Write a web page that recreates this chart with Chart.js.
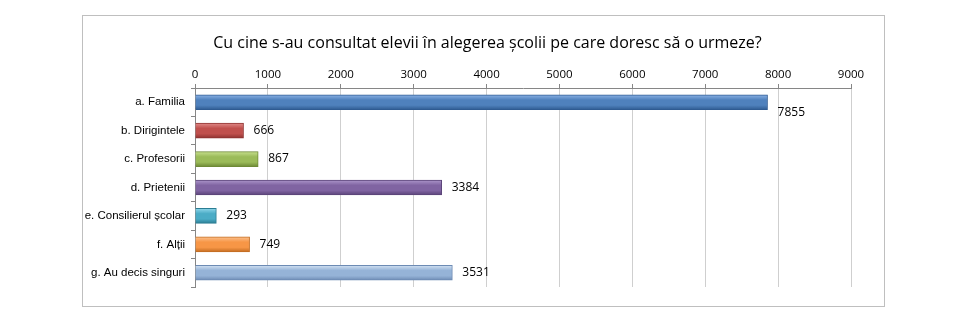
<!DOCTYPE html>
<html lang="ro">
<head>
<meta charset="UTF-8">
<title>Consultare elevi</title>
<style>
    body { margin: 0; background: #fff; width: 966px; height: 326px; position: relative; }
    .box {
        position: absolute; left: 82px; top: 15px;
        width: 801px; height: 290px;
        border: 1px solid #bfbfbf;
    }
    canvas { display: block; }
</style>
</head>
<body>
<div class="box"><canvas id="chart" width="801" height="290"></canvas></div>

<script src="https://cdn.jsdelivr.net/npm/chart.js"></script>
<script>
const titleText = 'Cu cine s-au consultat elevii în alegerea școlii pe care doresc să o urmeze?';
const categories = ['a. Familia', 'b. Dirigintele', 'c. Profesorii', 'd. Prietenii',
    'e. Consilierul școlar', 'f. Alții', 'g. Au decis singuri'];
const values = [7855, 666, 867, 3384, 293, 749, 3531];
const baseColors = ['#4f81bd', '#c0504d', '#9bbb59', '#8064a2', '#4bacc6', '#f79646', '#95b3d7'];
const lightColors = ['#8cb3e6', '#e08a88', '#c8e08f', '#ad97cb', '#8fd6ea', '#fbc18f', '#d3e2f3'];
const darkColors = ['#2f5b92', '#8f3331', '#6e8a36', '#5b4479', '#2b7d93', '#c46d22', '#6d8bb4'];

const BAR_H = 15;

function barFill(ctx) {
    const chart = ctx.chart;
    const i = ctx.dataIndex;
    if (!chart.chartArea || chart.scales.y === undefined) return baseColors[i];
    const yc = chart.scales.y.getPixelForValue(i);
    const g = chart.ctx.createLinearGradient(0, yc - BAR_H / 2, 0, yc + BAR_H / 2);
    g.addColorStop(0, lightColors[i]);
    g.addColorStop(0.35, baseColors[i]);
    g.addColorStop(0.7, baseColors[i]);
    g.addColorStop(1, darkColors[i]);
    return g;
}

// title centred on the whole box, value labels right of the bars
const extras = {
    id: 'extras',
    afterDraw(chart) {
        const c = chart.ctx;
        c.save();
        c.fillStyle = '#000';
        c.textBaseline = 'middle';
        c.textAlign = 'center';
        c.font = '16px "Open Sans", sans-serif';
        c.fillText(titleText, chart.width / 2 + 4, 27);
        c.textAlign = 'left';
        c.font = '12px "Open Sans", sans-serif';
        chart.getDatasetMeta(0).data.forEach((bar, i) => {
            c.fillText(String(values[i]), bar.x + 10, bar.y + (i === 0 ? 10 : 0));
        });
        c.restore();
    }
};

new Chart(document.getElementById('chart'), {
    type: 'bar',
    data: {
        labels: categories,
        datasets: [{
            data: values,
            backgroundColor: barFill,
            borderColor: darkColors,
            borderWidth: 1,
            borderSkipped: 'left',
            barThickness: BAR_H
        }]
    },
    options: {
        indexAxis: 'y',
        responsive: false,
        animation: false,
        layout: { padding: { left: 0, right: 33, top: 44, bottom: 19 } },
        plugins: {
            legend: { display: false },
            tooltip: { enabled: false },
            title: { display: false }
        },
        scales: {
            x: {
                position: 'top',
                min: 0,
                max: 9000,
                ticks: {
                    stepSize: 1000,
                    color: '#000',
                    padding: 2,
                    font: { family: '"Open Sans", sans-serif', size: 11.5 },
                    callback: v => String(v)
                },
                grid: { color: '#cfcfcf', tickLength: 4, tickColor: '#868686' },
                border: { color: '#868686' },
                afterFit(s) { s.height = 28; }
            },
            y: {
                ticks: {
                    color: '#000',
                    padding: 6,
                    font: { family: '"Liberation Sans", Arial, sans-serif', size: 11.5 }
                },
                grid: { drawOnChartArea: false, tickLength: 4, color: '#868686', offset: true },
                border: { color: '#868686' },
                afterFit(s) { s.width = 112; }
            }
        }
    },
    plugins: [extras]
});
</script>
</body>
</html>
